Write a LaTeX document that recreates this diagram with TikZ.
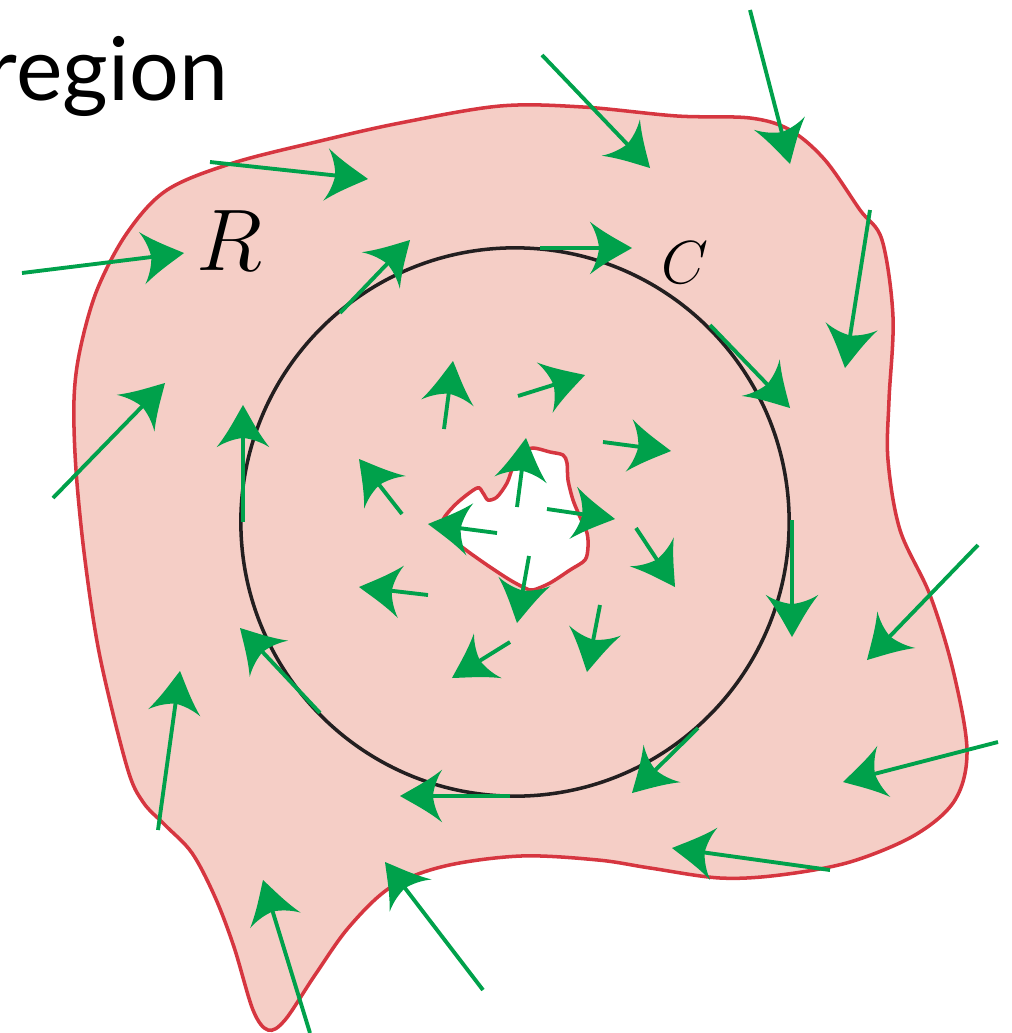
\documentclass[tikz,border=0pt]{standalone}
\usepackage{fontspec}
\setsansfont{Lato}
\usetikzlibrary{arrows.meta}
\definecolor{fieldgreen}{RGB}{0,161,75}
\definecolor{regionred}{RGB}{214,54,64}
\definecolor{regionpink}{RGB}{245,206,198}
\definecolor{curveblack}{RGB}{35,31,32}

% arrow head with hollowed sides
\pgfdeclarearrow{
    name = Flux,
    parameters = {\the\pgfarrowlength,\the\pgfarrowwidth},
    setup code = {
        \pgfarrowssettipend{0pt}
        \pgfarrowssetbackend{-\pgfarrowlength}
        \pgfarrowssetlineend{-0.7\pgfarrowlength}
        \pgfarrowssavethe\pgfarrowlength
        \pgfarrowssavethe\pgfarrowwidth
    },
    drawing code = {
        \pgfpathmoveto{\pgfqpoint{0pt}{0pt}}
        \pgfpathcurveto{\pgfqpoint{-0.3\pgfarrowlength}{0.14\pgfarrowwidth}}{\pgfqpoint{-0.65\pgfarrowlength}{0.28\pgfarrowwidth}}{\pgfqpoint{-\pgfarrowlength}{0.5\pgfarrowwidth}}
        \pgfpathcurveto{\pgfqpoint{-0.86\pgfarrowlength}{0.32\pgfarrowwidth}}{\pgfqpoint{-0.8\pgfarrowlength}{0.14\pgfarrowwidth}}{\pgfqpoint{-0.78\pgfarrowlength}{0pt}}
        \pgfpathcurveto{\pgfqpoint{-0.8\pgfarrowlength}{-0.14\pgfarrowwidth}}{\pgfqpoint{-0.86\pgfarrowlength}{-0.32\pgfarrowwidth}}{\pgfqpoint{-\pgfarrowlength}{-0.5\pgfarrowwidth}}
        \pgfpathcurveto{\pgfqpoint{-0.65\pgfarrowlength}{-0.28\pgfarrowwidth}}{\pgfqpoint{-0.3\pgfarrowlength}{-0.14\pgfarrowwidth}}{\pgfqpoint{0pt}{0pt}}
        \pgfpathclose
        \pgfusepathqfill
    },
    defaults = {length=12pt, width=15pt}
}

\tikzset{
    fieldarrow/.style={color=fieldgreen, line width=1.1pt, -{Flux[length=12pt, width=15pt]}},
    edgeline/.style={draw=regionred, line width=1pt},
}

\begin{document}
\begin{tikzpicture}[x=0.01cm, y=-0.01cm]
    \clip (0,0) rectangle (1011,1033);

    % region R with its red edge
    \filldraw[edgeline, fill=regionpink] plot[smooth cycle, tension=0.55] coordinates {
        (400,123) (500,106) (583,107) (677,116) (750,118) (790,130) (825,160)
        (860,210) (882,240) (893,317) (889,400) (888,460) (900,530) (930,595)
        (953,670) (967,750) (955,800) (915,835) (850,862) (780,875) (720,878)
        (650,868) (598,860) (521,856) (445,866) (391,887) (349,927) (315,975)
        (285,1020) (268,1030) (253,1010) (234,947) (215,897) (192,853) (165,825)
        (143,802) (127,767) (100,657) (85,560) (76,470) (74,400) (80,350)
        (97,290) (127,233) (167,190) (233,163) (320,141)};

    % hole in the middle
    \filldraw[edgeline, fill=white] plot[smooth cycle, tension=0.5] coordinates {
        (443,520) (457,503) (477,488) (483,493) (488,500) (497,497) (507,483)
        (513,467) (522,453) (533,448) (550,452) (563,455) (567,463) (568,480)
        (573,500) (580,517) (587,533) (588,547) (585,560) (570,570) (550,583)
        (533,590) (525,588) (510,580) (490,567) (470,553) (457,543) (447,533)};

    % curve C
    \draw[curveblack, line width=1pt] (515,522) circle [radius=2.74cm];

    % field arrows, tail to tip
    \foreach \tx/\ty/\hx/\hy in {
        542/55/650/168, 750/10/790/164, 870/210/845/368, 210/162/368/179,
        22/273/184/253, 340/313/410/240, 540/248/632/248, 710/325/790/408,
        53/498/165/383, 243/522/243/405, 320/713/240/628, 158/830/180/671,
        310/1033/263/880, 483/990/385/862, 510/796/400/796, 698/728/632/793,
        792/520/792/637, 978/545/867/660, 998/742/843/782, 830/870/672/848,
        444/429/453/361, 518/396/585/375, 603/442/671/451, 402/514/359/459,
        517/507/526/438, 497/533/428/524, 547/509/615/519, 636/528/675/587,
        428/595/359/587, 529/556/517/623, 600/605/587/672, 510/642/452/678}
        \draw[fieldarrow] (\tx,\ty) -- (\hx,\hy);

    % labels
    \node[anchor=base east, inner sep=0pt, font=\sffamily\fontsize{25}{30}\selectfont] (title) at (229,100) {region};
    \node[anchor=base west, inner sep=0pt, font=\fontsize{27}{32}\selectfont] (rlabel) at (196,270) {$R$};
    \node[anchor=base west, inner sep=0pt, font=\fontsize{19}{23}\selectfont] (clabel) at (661,283) {$C$};
\end{tikzpicture}
\end{document}
